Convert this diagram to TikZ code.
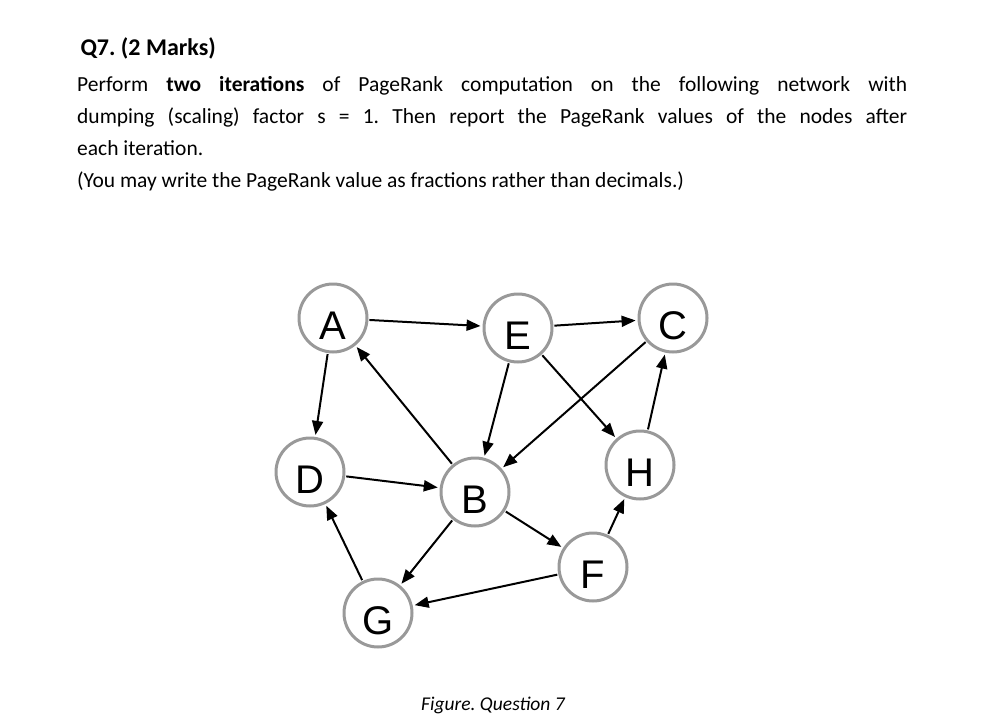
\documentclass[tikz,border=0pt]{standalone}
\usepackage{fontspec}
\setmainfont{Carlito}
\newfontfamily\nodefont{Liberation Sans}
\usetikzlibrary{arrows.meta}
\newcommand{\vlab}[1]{\raisebox{-7pt}{#1}}
\begin{document}
\frenchspacing
\begin{tikzpicture}[x=1pt,y=-1pt,
  vtx/.style={circle,draw=black!40,line width=3pt,fill=white,minimum size=68pt,inner sep=0pt,text height=29pt,text depth=0pt,font=\nodefont\fontsize{40}{40}\selectfont},
  edge/.style={-{Triangle[length=14pt,width=11pt]},line width=2pt,shorten >=2pt,shorten <=1pt}]
\useasboundingbox (0,0) rectangle (1000,725);
\node[anchor=base west,font=\bfseries\fontsize{24}{26}\selectfont\frenchspacing] (t) at (77,56) {Q7. (2 Marks)};
\node[anchor=north west,text width=830pt,align=justify,inner sep=0pt,font=\fontsize{21.5}{32}\selectfont\frenchspacing] (p) at (77,76)
{Perform \textbf{two iterations} of PageRank computation on the following network with\linebreak dumping (scaling) factor s = 1. Then report the PageRank values of the nodes after\linebreak each iteration.\par
(You may write the PageRank value as fractions rather than decimals.)};
\node[vtx] (A) at (333,318) {\vlab{A}};
\node[vtx] (E) at (518,328) {\vlab{E}};
\node[vtx] (C) at (673,318) {\vlab{C}};
\node[vtx] (D) at (310,472) {\vlab{D}};
\node[vtx] (B) at (475,492) {\vlab{B}};
\node[vtx] (H) at (640,465) {\vlab{H}};
\node[vtx] (F) at (593,567) {\vlab{F}};
\node[vtx] (G) at (378,613) {\vlab{G}};
\foreach \a/\b in {A/E,E/C,A/D,B/A,E/B,C/B,E/H,H/C,D/B,B/F,F/H,B/G,G/D,F/G}
  \draw[edge] (\a) -- (\b);
\node[anchor=base,font=\itshape\fontsize{19.5}{20}\selectfont] (cap) at (493,710) {Figure. Question 7};
\end{tikzpicture}
\end{document}
